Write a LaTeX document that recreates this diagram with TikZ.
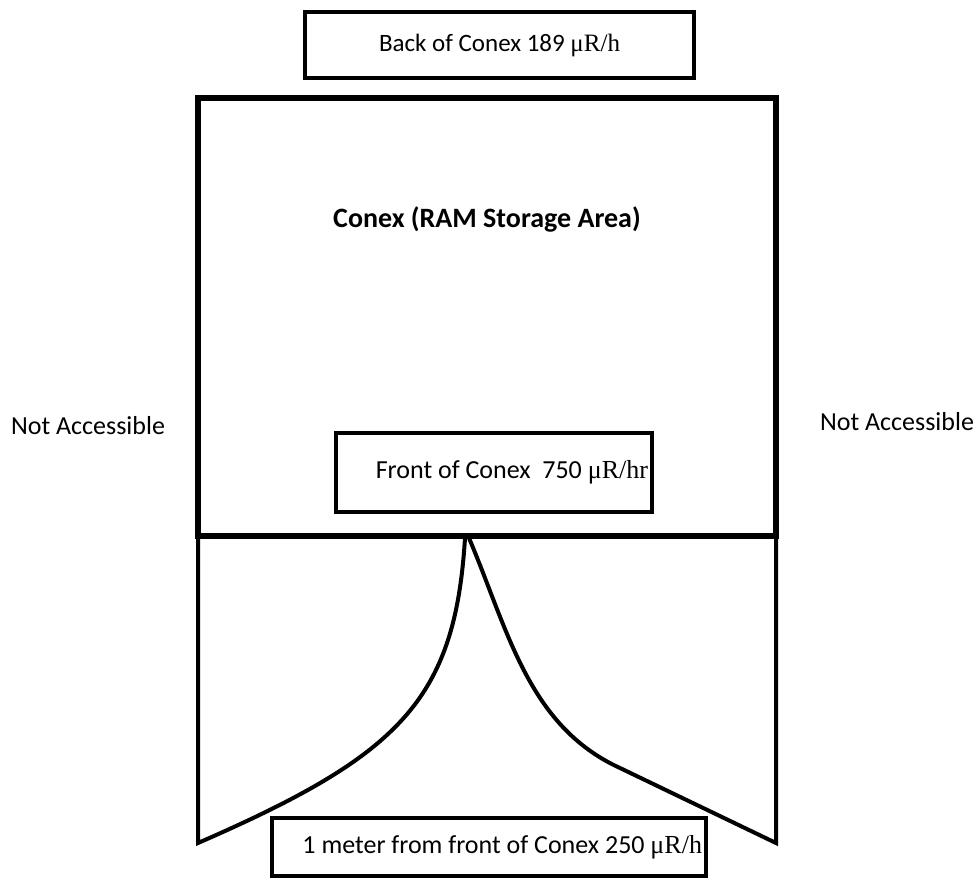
\documentclass[tikz,border=0pt]{standalone}
\usepackage{fontspec}
\setmainfont{Carlito}
\newfontfamily\unitfont{Liberation Serif}
\newcommand{\murate}[1]{{\unitfont μR/#1}}
\usetikzlibrary{positioning}

\tikzset{
  readbox/.style={draw, line width=2pt, inner xsep=2pt, inner ysep=0pt},
  wall/.style={line width=3pt, line join=miter},
  flare/.style={line width=2pt, line join=miter}
}

\begin{document}
\begin{tikzpicture}[x=0.5pt, y=-0.5pt, font=\fontsize{13}{15}\selectfont]
\useasboundingbox (0,0) rectangle (980,878);
% conex and the area in front of it
\draw[wall] (198,98) rectangle (776,536);
\draw[flare] (198,536) -- (198,843) .. controls (400,755) and (455,700) .. (465,538);
\draw[flare] (469,538) .. controls (508,630) and (528,726) .. (620,768) -- (776,843) -- (776,536);
\node[font=\fontsize{14}{16}\selectfont\bfseries] (conex) at (487,219) {Conex (RAM Storage Area)};
% readings
\node[readbox, minimum width=194.5pt, minimum height=33pt, font=\fontsize{12.5}{15}\selectfont] (back) at (499.5,45) {Back of Conex 189 \murate{h}};
\node[readbox, minimum height=39.5pt, text width=154pt, align=flush right] (front) at (494,472.5) {Front of Conex\ \ 750 \murate{hr}};
\node[readbox, minimum height=29pt, text width=213pt, align=flush right] (meter) at (489,847) {1 meter from front of Conex 250 \murate{h}};
\node (notleft) at (88,426) {Not Accessible};
\node (notright) at (897,422) {Not Accessible};
\end{tikzpicture}
\end{document}
